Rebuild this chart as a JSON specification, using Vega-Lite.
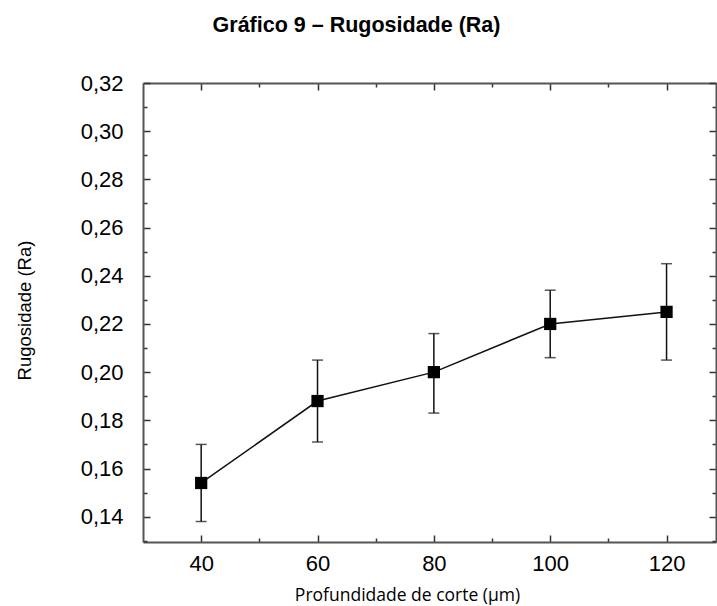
{
  "$schema": "https://vega.github.io/schema/vega-lite/v6.json",
  "autosize": "none",
  "width": 573,
  "height": 459,
  "padding": {"left": 143, "top": 83, "right": 1, "bottom": 64},
  "background": "white",
  "title": {
    "text": "Gráfico 9 – Rugosidade (Ra)",
    "font": "Liberation Sans",
    "fontSize": 21.5,
    "fontWeight": "bold",
    "color": "#000000",
    "anchor": "middle",
    "dx": -73,
    "offset": 36
  },
  "config": {
    "view": {"stroke": null},
    "axis": {
      "domainColor": "#555555",
      "domainWidth": 2,
      "tickColor": "#333333",
      "tickWidth": 1.5,
      "grid": false,
      "labelFont": "Liberation Sans",
      "labelFontSize": 22,
      "labelColor": "#000000",
      "labelOverlap": false,
      "labelBound": false,
      "labelFlush": false
    }
  },
  "data": {
    "values": [
      {"depth": 40, "ra": 0.154, "low": 0.138, "high": 0.170},
      {"depth": 60, "ra": 0.188, "low": 0.171, "high": 0.205},
      {"depth": 80, "ra": 0.200, "low": 0.183, "high": 0.216},
      {"depth": 100, "ra": 0.220, "low": 0.206, "high": 0.234},
      {"depth": 120, "ra": 0.225, "low": 0.205, "high": 0.245}
    ]
  },
  "resolve": {"axis": {"x": "independent", "y": "independent"}},
  "layer": [
    {
      "mark": {"type": "rule", "color": "#111111", "strokeWidth": 1.5},
      "encoding": {
        "x": {
          "field": "depth", "type": "quantitative",
          "scale": {"domain": [30, 128.5], "nice": false, "zero": false},
          "axis": {
            "orient": "bottom",
            "values": [40, 50, 60, 70, 80, 90, 100, 110, 120],
            "labelExpr": "datum.value % 20 == 0 ? datum.label : ''",
            "tickSize": {"condition": {"test": "datum.value % 20 == 0", "value": -7}, "value": -4},
            "labelPadding": 18,
            "title": "Profundidade de corte (μm)",
            "titleFont": "Open Sans",
            "titleFontSize": 17.5,
            "titleFontWeight": "normal",
            "titleColor": "#000000",
            "titleX": 264,
            "titleY": 44
          }
        },
        "y": {
          "field": "low", "type": "quantitative",
          "scale": {"domain": [0.1295, 0.32], "nice": false, "zero": false},
          "axis": {
            "orient": "left",
            "values": [0.13, 0.14, 0.15, 0.16, 0.17, 0.18, 0.19, 0.2, 0.21, 0.22, 0.23, 0.24, 0.25, 0.26, 0.27, 0.28, 0.29, 0.3, 0.31, 0.32],
            "labelExpr": "round(datum.value * 100) % 2 == 0 ? replace(format(datum.value, '.2f'), '.', ',') : ''",
            "tickSize": {"condition": {"test": "round(datum.value * 100) % 2 == 0", "value": -7}, "value": -4},
            "labelPadding": 27,
            "title": "Rugosidade (Ra)",
            "titleFont": "Liberation Sans",
            "titleFontSize": 18.5,
            "titleFontWeight": "normal",
            "titleColor": "#000000",
            "titleX": -109,
            "titleY": 227,
            "titleAngle": -90,
            "titleAnchor": "middle"
          }
        },
        "y2": {"field": "high"}
      }
    },
    {
      "mark": {"type": "tick", "orient": "horizontal", "color": "#111111", "size": 11, "thickness": 1.5},
      "encoding": {
        "x": {"field": "depth", "type": "quantitative", "axis": null},
        "y": {"field": "low", "type": "quantitative", "axis": null}
      }
    },
    {
      "mark": {"type": "tick", "orient": "horizontal", "color": "#111111", "size": 11, "thickness": 1.5},
      "encoding": {
        "x": {"field": "depth", "type": "quantitative", "axis": null},
        "y": {"field": "high", "type": "quantitative", "axis": null}
      }
    },
    {
      "mark": {"type": "line", "color": "#111111", "strokeWidth": 1.5},
      "encoding": {
        "x": {
          "field": "depth", "type": "quantitative",
          "axis": {
            "orient": "top",
            "values": [40, 50, 60, 70, 80, 90, 100, 110, 120],
            "labels": false,
            "title": null,
            "tickSize": {"condition": {"test": "datum.value % 20 == 0", "value": -7}, "value": -4}
          }
        },
        "y": {
          "field": "ra", "type": "quantitative",
          "axis": {
            "orient": "right",
            "values": [0.13, 0.14, 0.15, 0.16, 0.17, 0.18, 0.19, 0.2, 0.21, 0.22, 0.23, 0.24, 0.25, 0.26, 0.27, 0.28, 0.29, 0.3, 0.31, 0.32],
            "labels": false,
            "title": null,
            "tickSize": {"condition": {"test": "round(datum.value * 100) % 2 == 0", "value": -7}, "value": -4}
          }
        }
      }
    },
    {
      "mark": {"type": "square", "color": "#000000", "filled": true, "size": 150, "opacity": 1},
      "encoding": {
        "x": {"field": "depth", "type": "quantitative", "axis": null},
        "y": {"field": "ra", "type": "quantitative", "axis": null}
      }
    }
  ]
}
